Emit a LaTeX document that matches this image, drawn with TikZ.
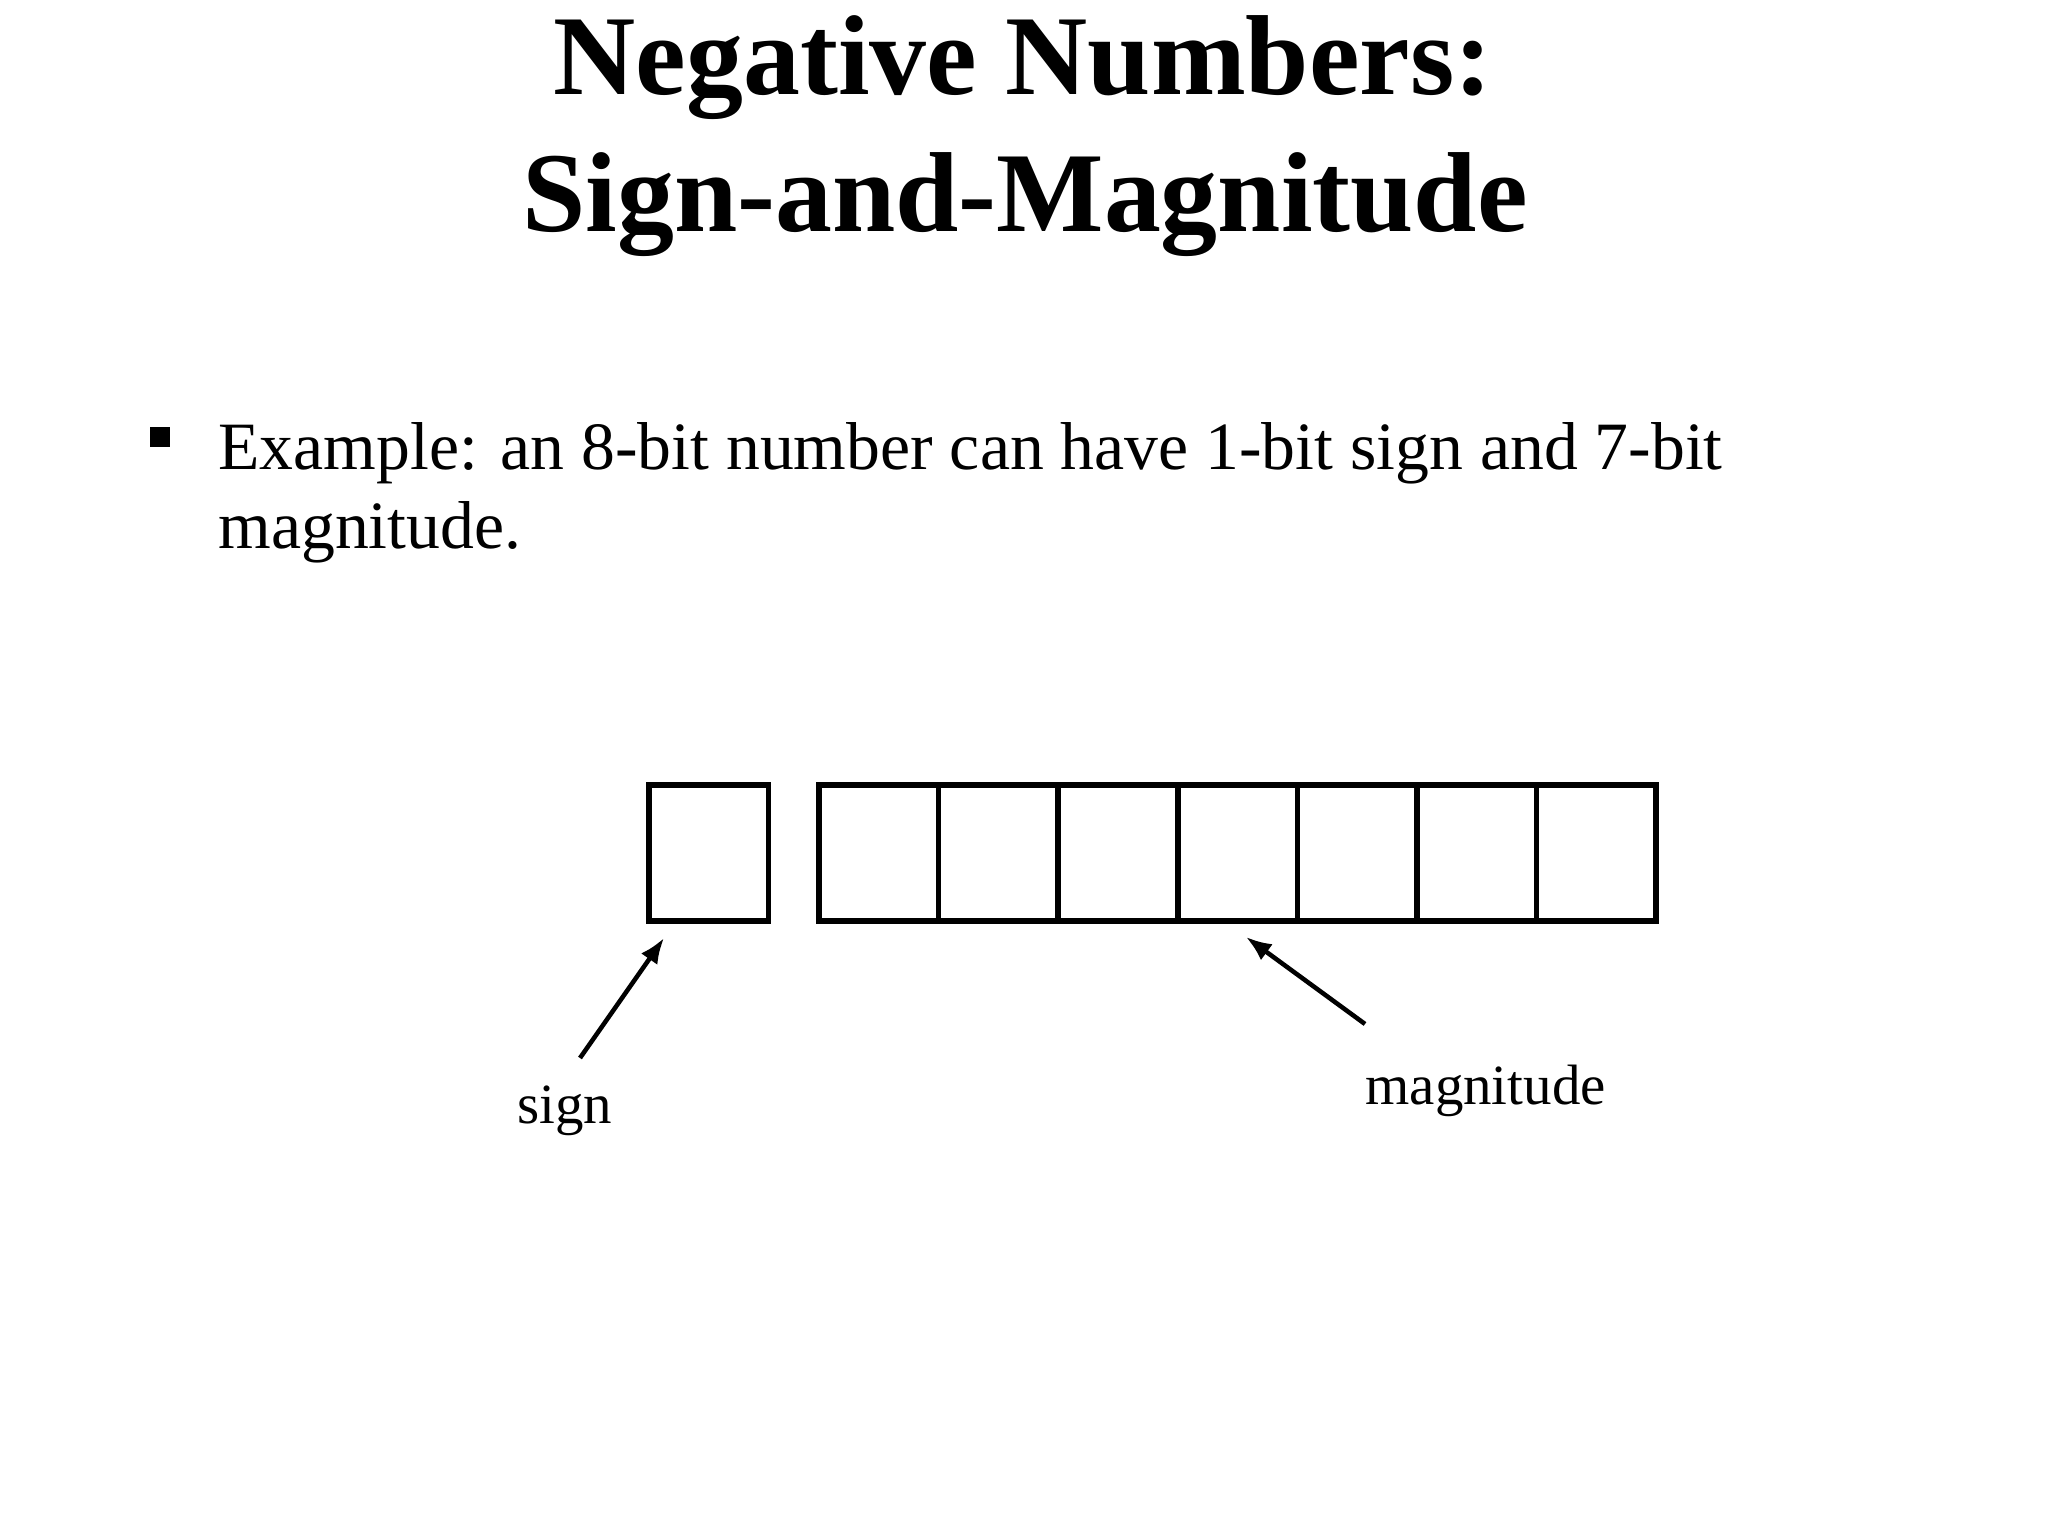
\documentclass[tikz,border=0pt]{standalone}
\usepackage{fontspec}
\setmainfont{Liberation Serif}
\usetikzlibrary{arrows.meta}
\tikzset{
  cell/.style={draw=black, line width=2pt, minimum width=119.6*0.3515625pt, minimum height=136*0.3515625pt, inner sep=0pt, outer sep=0pt, anchor=north west},
  pointer/.style={line width=1.6pt, -{Latex[length=9pt,width=7pt]}},
  titletext/.style={font=\fontsize{40}{44}\selectfont\bfseries, inner sep=0pt, anchor=base},
  bodytext/.style={font=\fontsize{23.8}{28}\selectfont, inner sep=0pt, anchor=base west},
  labeltext/.style={font=\fontsize{20}{24}\selectfont, inner sep=0pt, anchor=base west}
}
\begin{document}
\begin{tikzpicture}[x=0.3515625pt, y=-0.3515625pt]
\useasboundingbox (0,0) rectangle (2048,1536);
\node[titletext] (t1) at (1023,95) {Negative Numbers:};
\node[titletext] (t2) at (1025,232) {Sign-and-Magnitude};
\node[fill=black, minimum size=20*0.3515625pt, inner sep=0pt] (bullet) at (159.5,437.5) {};
\node[bodytext] (b1) at (218,470) {Example: an 8-bit number can have 1-bit sign and 7-bit};
\node[bodytext] (b2) at (218,549) {magnitude.};
% sign cell
\node[cell] (s) at (649,785) {};
% magnitude cells
\foreach \i in {0,...,6} {
  \node[cell] (m\i) at ({819+119.6*\i},785) {};
}
\node[labeltext] (lsign) at (517,1123) {sign};
\node[labeltext] (lmag) at (1365,1104) {magnitude};
\coordinate (sa) at (580,1058);
\coordinate (ma) at (1365,1024);
\coordinate (st) at (664,938);
\coordinate (mt) at (1246,937);
\draw[pointer] (sa) -- (st);
\draw[pointer] (ma) -- (mt);
\end{tikzpicture}
\end{document}
